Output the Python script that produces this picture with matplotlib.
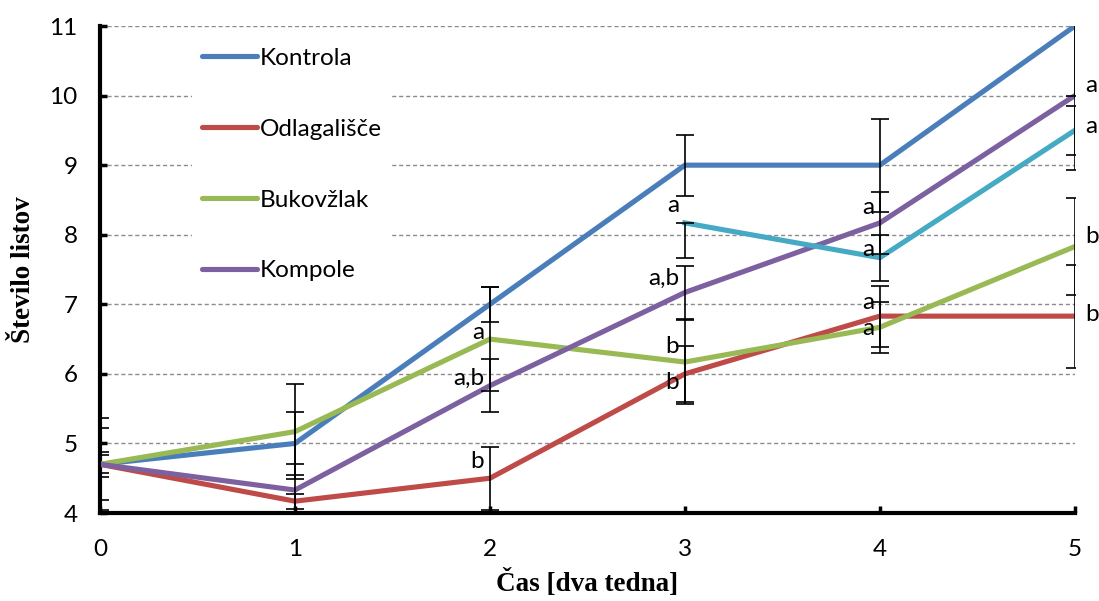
import numpy as np
import matplotlib
matplotlib.use('Agg')
import matplotlib.pyplot as plt

# ===================== 数据 =====================
x = [0, 1, 2, 3, 4, 5]
kontrola = [4.7, 5.0, 7.0, 9.0, 9.0, 11.0]
odlagalisce = [4.7, 4.17, 4.5, 6.0, 6.83, 6.83]
bukovzlak = [4.7, 5.17, 6.5, 6.17, 6.67, 7.83]
kompole = [4.7, 4.33, 5.83, 7.17, 8.17, 10.0]
x_extra = [3, 4, 5]
extra = [8.17, 7.67, 9.5]

# 误差线（下, 上）
kontrola_err = [0.66, 0.45, 0.25, 0.44, 0.67, 1.0]
odlagalisce_err = [0.52, 0.11, 0.45, 0.4, 0.44, 0.74]
bukovzlak_err = [0.18, 0.68, 0.75, 0.6, 0.37, 0.7]
kompole_err = [0.13, 0.37, 0.38, 0.38, 0.44, 1.07]
extra_err_lo = [0.5, 0.33, 0.35]
extra_err_hi = [0.0, 0.33, 0.35]

# 显著性字母
letters_x = [2, 2, 2, 3, 3, 3, 3, 4, 4, 4, 4, 5, 5, 5, 5]
letters_y = [6.6, 5.93, 4.74, 8.42, 7.38, 6.39, 5.88, 8.39, 7.79, 7.03, 6.65,
             10.15, 9.55, 7.97, 6.85]
letters = ['a', 'a,b', 'b', 'a', 'a,b', 'b', 'b', 'a', 'a', 'a', 'a',
           'a', 'a', 'b', 'b']

names = ['Kontrola', 'Odlagališče', 'Bukovžlak', 'Kompole']
colors = ['#4A7EBB', '#BE4B48', '#98B954', '#7D60A0']
extra_color = '#46AAC5'

plt.rcParams['font.family'] = ['Lato', 'DejaVu Sans']
fs = 17.5

fig = plt.figure(figsize=(10.99, 6.01), dpi=100)
ax = fig.add_axes([0.091, 0.1464, 0.887, 0.8103])

series = [kontrola, odlagalisce, bukovzlak, kompole]
errs = [kontrola_err, odlagalisce_err, bukovzlak_err, kompole_err]
for s, c, n in zip(series, colors, names):
    ax.plot(x, s, color=c, lw=3.7, label=n, zorder=3, solid_capstyle='round')
ax.plot(x_extra, extra, color=extra_color, lw=3.7, zorder=3)

for s, e in zip(series, errs):
    ax.errorbar(x, s, yerr=e, fmt='none', ecolor='black', elinewidth=1.2,
                capsize=6.5, capthick=1.2, zorder=4)
ax.errorbar(x_extra, extra, yerr=[extra_err_lo, extra_err_hi], fmt='none',
            ecolor='black', elinewidth=1.2, capsize=6.5, capthick=1.2, zorder=4)

for xi, yi, t in zip(letters_x, letters_y, letters):
    if xi == 5:
        ax.text(xi + 0.055, yi, t, ha='left', va='center', fontsize=fs)
    else:
        ax.text(xi - 0.03, yi, t, ha='right', va='center', fontsize=fs)

ax.set_xlim(0, 5)
ax.set_ylim(4, 11)
ax.set_xticks(x)
ax.set_yticks(range(4, 12))
ax.yaxis.grid(True, color='#8c8c8c', linestyle=(0, (3, 2)), lw=1)
ax.set_axisbelow(True)

for side in ['top', 'right']:
    ax.spines[side].set_visible(False)
for side in ['left', 'bottom']:
    ax.spines[side].set_linewidth(3)
ax.tick_params(axis='both', direction='in', length=5, width=2.5, labelsize=fs)
ax.tick_params(axis='y', pad=16)
ax.tick_params(axis='x', pad=19)

ax.set_ylabel('Število listov', family='Liberation Serif', fontweight='bold',
              fontsize=19.5, labelpad=10)
ax.set_xlabel('Čas [dva tedna]', family='Liberation Serif', fontweight='bold',
              fontsize=19.5, labelpad=6)

leg = ax.legend(loc='upper left', bbox_to_anchor=(0.082, 1.0), frameon=True,
                facecolor='white', edgecolor='none', framealpha=1,
                fontsize=fs, handlelength=2.25, handletextpad=0.12,
                labelspacing=2.05, borderpad=0.4)
for h in leg.get_lines():
    h.set_linewidth(3.7)

fig.savefig('out.png', dpi=100)
